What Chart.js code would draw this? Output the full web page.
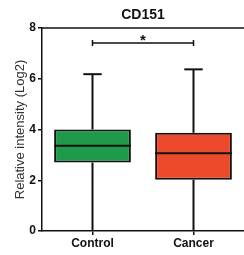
<!DOCTYPE html>
<html>
<head>
<meta charset="utf-8">
<script src="https://cdn.jsdelivr.net/npm/chart.js@4/dist/chart.umd.min.js"></script>
<style>
  html, body { margin: 0; padding: 0; background: #fff; }
  #wrap { width: 244px; height: 255px; }
</style>
</head>
<body>
<div id="wrap"><canvas id="c" width="244" height="255"></canvas></div>
<script>
// box plot data
const groups = ['Control', 'Cancer'];
const mins = [0, 0];
const q1s = [2.7, 2.02];
const medians = [3.36, 3.06];
const q3s = [4.0, 3.87];
const maxs = [6.18, 6.37];
const boxColors = ['#1f9a4b', '#ec4a2b'];
const yTicks = [0, 2, 4, 6, 8];
const sigLevel = 7.41;
const sigLabel = '*';
const chartTitle = 'CD151';

const FONT = '"Liberation Sans", Arial, sans-serif';

// whiskers, medians, top frame line, significance bar and title
const boxExtras = {
    id: 'boxExtras',
    afterDatasetsDraw(chart) {
        const ctx = chart.ctx;
        const x = chart.scales.x, y = chart.scales.y;
        const area = chart.chartArea;
        const meta = chart.getDatasetMeta(0);
        ctx.save();
        ctx.strokeStyle = '#111';
        ctx.lineCap = 'butt';
        groups.forEach((g, i) => {
            const bar = meta.data[i];
            const cx = x.getPixelForValue(i);
            const half = bar.width / 2;
            const capHalf = half * 0.24;
            ctx.lineWidth = 2;
            // whiskers
            ctx.beginPath();
            ctx.moveTo(cx, y.getPixelForValue(q3s[i]));
            ctx.lineTo(cx, y.getPixelForValue(maxs[i]));
            ctx.moveTo(cx, y.getPixelForValue(q1s[i]));
            ctx.lineTo(cx, y.getPixelForValue(mins[i]));
            ctx.stroke();
            // cap
            ctx.beginPath();
            ctx.moveTo(cx - capHalf, y.getPixelForValue(maxs[i]));
            ctx.lineTo(cx + capHalf, y.getPixelForValue(maxs[i]));
            ctx.stroke();
            // median
            ctx.beginPath();
            ctx.moveTo(cx - half, y.getPixelForValue(medians[i]));
            ctx.lineTo(cx + half, y.getPixelForValue(medians[i]));
            ctx.stroke();
        });
        // top frame
        ctx.lineWidth = 1.5;
        ctx.beginPath();
        ctx.moveTo(area.left, area.top);
        ctx.lineTo(area.right, area.top);
        ctx.stroke();
        // significance bracket
        const sy = y.getPixelForValue(sigLevel);
        const x0 = x.getPixelForValue(0), x1 = x.getPixelForValue(1);
        ctx.beginPath();
        ctx.moveTo(x0, sy); ctx.lineTo(x1, sy);
        ctx.moveTo(x0, sy - 3); ctx.lineTo(x0, sy + 3);
        ctx.moveTo(x1, sy - 3); ctx.lineTo(x1, sy + 3);
        ctx.stroke();
        ctx.fillStyle = '#111';
        ctx.font = 'bold 15px ' + FONT;
        ctx.textAlign = 'center';
        ctx.textBaseline = 'middle';
        ctx.fillText(sigLabel, (x0 + x1) / 2, sy - 2);
        // title centred over the plot area
        ctx.font = 'bold 14px ' + FONT;
        ctx.fillText(chartTitle, (area.left + area.right) / 2, 15);
        ctx.restore();
    }
};

new Chart(document.getElementById('c'), {
    type: 'bar',
    data: {
        labels: groups,
        datasets: [{
            data: groups.map((g, i) => [q1s[i], q3s[i]]),
            backgroundColor: boxColors,
            borderColor: '#111',
            borderWidth: 2,
            borderSkipped: false,
            barPercentage: 0.76,
            categoryPercentage: 1
        }]
    },
    options: {
        responsive: false,
        animation: false,
        layout: { padding: { left: 0, right: 0, top: 28, bottom: 0 } },
        plugins: {
            legend: { display: false },
            tooltip: { enabled: false },
            title: { display: false }
        },
        scales: {
            x: {
                offset: true,
                grid: { display: true, drawOnChartArea: false, offset: false, tickLength: 4, color: '#111', lineWidth: 1.5 },
                border: { color: '#111', width: 1.5 },
                ticks: {
                    color: '#111', padding: 1,
                    font: { family: FONT, size: 12, weight: 'bold' }
                },
                afterFit: s => { s.height = 24; }
            },
            y: {
                min: 0, max: 8,
                afterBuildTicks: s => { s.ticks = yTicks.map(v => ({ value: v })); },
                grid: { display: true, drawOnChartArea: false, tickLength: 4, color: '#111', lineWidth: 1.5 },
                border: { color: '#111', width: 1.5 },
                ticks: {
                    color: '#111', padding: 2,
                    font: { family: FONT, size: 12, weight: 'bold' }
                },
                title: {
                    display: true,
                    text: 'Relative intensity (Log2)',
                    color: '#333',
                    padding: { top: 13, bottom: 0 },
                    font: { family: FONT, size: 13 }
                },
                afterFit: s => { s.width = 42; }
            }
        }
    },
    plugins: [boxExtras]
});
</script>
</body>
</html>
